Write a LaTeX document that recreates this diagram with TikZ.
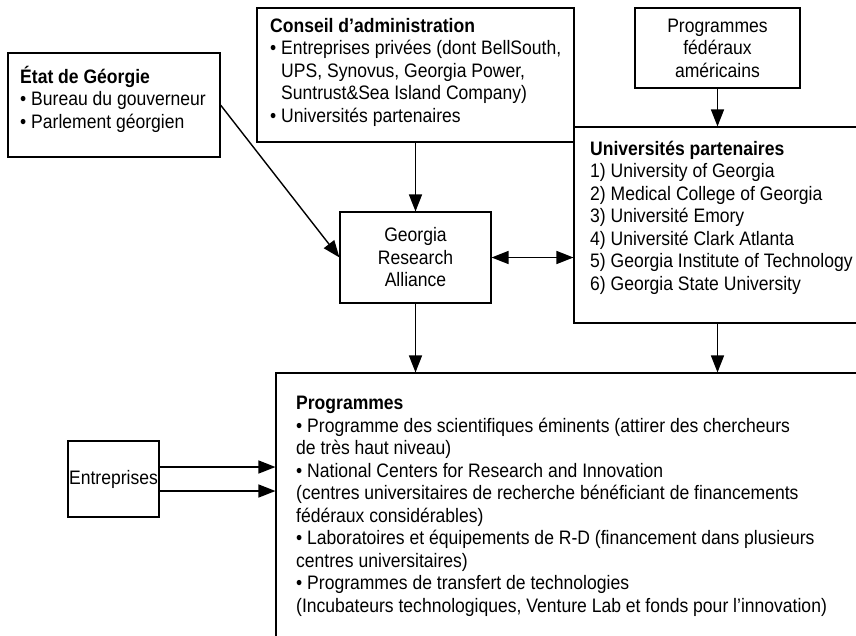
\documentclass[tikz,border=0pt]{standalone}
\usepackage{fontspec}
\setmainfont{Liberation Sans}[FakeStretch=0.9]
\usetikzlibrary{arrows.meta,positioning}

\newcommand{\bul}{\textbullet\ }
\newcommand{\ind}{\hphantom{\textbullet\ }}

\begin{document}
\begin{tikzpicture}[
x=1pt, y=-1pt,
box/.style={
  draw,
  line width=1.1pt,
  inner sep=0pt,
  align=center,
  font=\fontsize{19.5}{22.5}\selectfont
  },
txt/.style={
  inner sep=0pt,
  align=left,
  anchor=base west,
  font=\fontsize{19.5}{22.5}\selectfont
  },
arr/.style={-{Triangle[length=17pt,width=13pt]}, line width=1.4pt}
]
\path[use as bounding box, clip] (0,0) rectangle (856,635);

% boxes
\node[box, minimum width=212pt, minimum height=104pt] (etat) at (114,105) {};
\node[box, minimum width=317pt, minimum height=134pt] (conseil) at (415.5,75) {};
\node[box, minimum width=165pt, minimum height=80pt] (fed) at (717.5,48)
  {Programmes\\fédéraux\\américains};
\node[box, minimum width=306pt, minimum height=196pt] (univ) at (727,225) {};
\node[box, minimum width=151pt, minimum height=91pt] (gra) at (415.5,257.5)
  {Georgia\\Research\\Alliance};
\node[box, minimum width=604pt, minimum height=287pt] (prog) at (578,516.5) {};
\node[box, minimum width=91pt, minimum height=76pt] (entr) at (113.5,479) {Entreprises};

% texts (placed by the baseline of their last line)
\node[txt] (etat-t) at (20,128) {\textbf{État de Géorgie}\\
  \bul Bureau du gouverneur\\
  \bul Parlement géorgien};
\node[txt] (conseil-t) at (270,122) {\textbf{Conseil d’administration}\\
  \bul Entreprises privées (dont BellSouth,\\
  \ind UPS, Synovus, Georgia Power,\\
  \ind Suntrust\&Sea Island Company)\\
  \bul Universités partenaires};
\node[txt] (univ-t) at (590,290) {\textbf{Universités partenaires}\\
  1)~University of Georgia\\
  2)~Medical College of Georgia\\
  3)~Université Emory\\
  4)~Université Clark Atlanta\\
  5)~Georgia Institute of Technology\\
  6)~Georgia State University};
\node[txt] (prog-t) at (296,612) {\textbf{Programmes}\\
  \bul Programme des scientifiques éminents (attirer des chercheurs\\
  de très haut niveau)\\
  \bul National Centers for Research and Innovation\\
  (centres universitaires de recherche bénéficiant de financements\\
  fédéraux considérables)\\
  \bul Laboratoires et équipements de R-D (financement dans plusieurs\\
  centres universitaires)\\
  \bul Programmes de transfert de technologies\\
  (Incubateurs technologiques, Venture Lab et fonds pour l’innovation)};

% arrows
\draw[arr] (etat.east) -- (gra.west);
\draw[arr] (conseil) -- (gra);
\draw[arr] (fed) -- (fed |- univ.north);
\draw[arr, {Triangle[length=17pt,width=13pt]}-{Triangle[length=17pt,width=13pt]}]
  (gra.east) -- (gra.east -| univ.west);
\draw[arr] (gra) -- (gra |- prog.north);
\draw[arr] (fed |- univ.south) -- (fed |- prog.north);
\draw[arr] ([yshift=12pt]entr.east) -- ([yshift=12pt]entr.east -| prog.west);
\draw[arr] ([yshift=-12pt]entr.east) -- ([yshift=-12pt]entr.east -| prog.west);
\end{tikzpicture}
\end{document}
